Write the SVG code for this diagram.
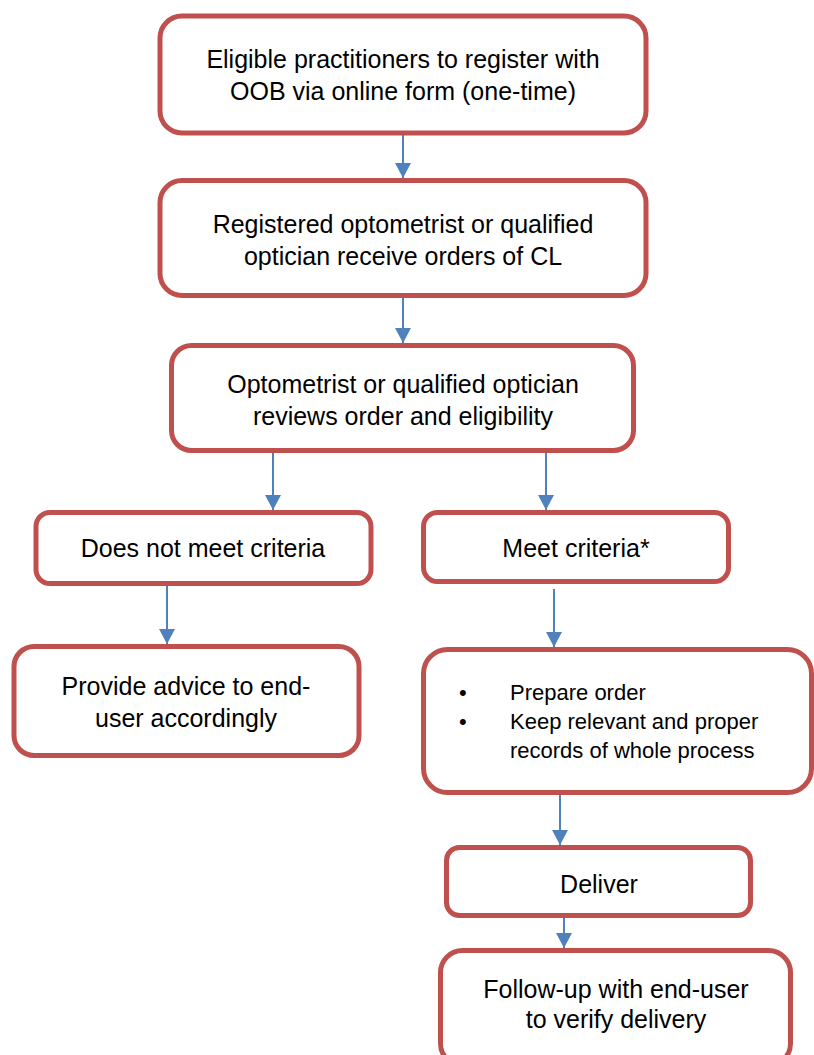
<svg xmlns="http://www.w3.org/2000/svg" width="814" height="1055" viewBox="0 0 814 1055">
<style>
.box{fill:#fff;stroke:#C0504D;stroke-width:5}
.t{font-family:"Liberation Sans",Arial,sans-serif;font-size:25px;fill:#000;text-anchor:middle}
.b{font-family:"Liberation Sans",Arial,sans-serif;font-size:22px;fill:#000}
.c{stroke:#4F81BD;stroke-width:2;fill:none;marker-end:url(#ah)}
</style>
<defs>
<marker id="ah" markerUnits="userSpaceOnUse" markerWidth="15" markerHeight="16" viewBox="0 0 15 16" refX="15" refY="8" orient="auto">
<path d="M0,0 L15,8 L0,16 z" fill="#4F81BD"/>
</marker>
</defs>
<rect width="814" height="1055" fill="#fff"/>
<g id="connectors">
<line class="c" x1="403" y1="135" x2="403" y2="178"/>
<line class="c" x1="403" y1="298" x2="403" y2="343"/>
<line class="c" x1="273" y1="453" x2="273" y2="510"/>
<line class="c" x1="546" y1="453" x2="546" y2="510"/>
<line class="c" x1="167" y1="586" x2="167" y2="644"/>
<line class="c" x1="554" y1="589" x2="554" y2="647"/>
<line class="c" x1="560" y1="795" x2="560" y2="845"/>
<line class="c" x1="564" y1="918" x2="564" y2="948"/>
</g>
<g id="n1"><rect class="box" x="160" y="16" width="486" height="117" rx="22"/>
<text class="t" x="403" y="68">Eligible practitioners to register with</text>
<text class="t" x="403" y="100">OOB via online form (one-time)</text></g>
<g id="n2"><rect class="box" x="160" y="180.5" width="486" height="115" rx="22"/>
<text class="t" x="403" y="233">Registered optometrist or qualified</text>
<text class="t" x="403" y="265">optician receive orders of CL</text></g>
<g id="n3"><rect class="box" x="171.5" y="345.5" width="462" height="105" rx="20"/>
<text class="t" x="403" y="393">Optometrist or qualified optician</text>
<text class="t" x="403" y="425">reviews order and eligibility</text></g>
<g id="n4"><rect class="box" x="36" y="512.5" width="335" height="71" rx="14"/>
<text class="t" x="203" y="557">Does not meet criteria</text></g>
<g id="n5"><rect class="box" x="14" y="646.5" width="345" height="109" rx="20"/>
<text class="t" x="186" y="695">Provide advice to end-</text>
<text class="t" x="186" y="727">user accordingly</text></g>
<g id="n6"><rect class="box" x="423.5" y="512.5" width="305" height="69" rx="14"/>
<text class="t" x="576" y="557">Meet criteria*</text></g>
<g id="n7"><rect class="box" x="423.5" y="649.5" width="388" height="143" rx="24"/>
<text class="b" x="459" y="700">•</text>
<text class="b" x="510" y="700">Prepare order</text>
<text class="b" x="459" y="729">•</text>
<text class="b" x="510" y="729">Keep relevant and proper</text>
<text class="b" x="510" y="758">records of whole process</text></g>
<g id="n8"><rect class="box" x="446.5" y="847.5" width="304" height="68" rx="13"/>
<text class="t" x="599" y="893">Deliver</text></g>
<g id="n9"><rect class="box" x="440.5" y="950.5" width="350" height="115" rx="22"/>
<text class="t" x="616" y="998">Follow-up with end-user</text>
<text class="t" x="616" y="1028">to verify delivery</text></g>
</svg>
